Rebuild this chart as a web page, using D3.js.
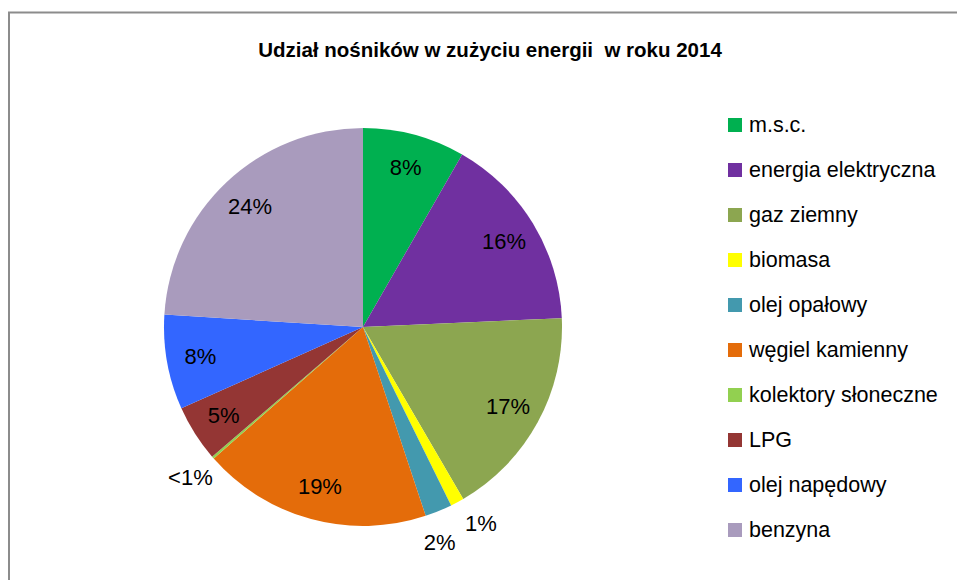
<!DOCTYPE html>
<html>
  <head>
    <meta charset="utf-8">
    <title>Udział nośników w zużyciu energii w roku 2014</title>
    <style>
      body { margin: 0; background: #fff; }
      svg text { font-family: "Liberation Sans", Arial, sans-serif; fill: #000; }
    </style>
  </head>
  <body>
    <div id="chart"></div>
    <script src="https://d3js.org/d3.v7.min.js"></script>
    <script>
      // carriers, their share (%) and printed labels, clockwise from 12 o'clock
      var categories = ["m.s.c.", "energia elektryczna", "gaz ziemny", "biomasa", "olej opałowy",
                        "węgiel kamienny", "kolektory słoneczne", "LPG", "olej napędowy", "benzyna"];
      var shares = [8.3, 16.0, 17.3, 1.1, 2.2, 18.6, 0.2, 4.6, 7.7, 24.0];
      var labels = ["8%", "16%", "17%", "1%", "2%", "19%", "<1%", "5%", "8%", "24%"];
      var colors = ["#00B050", "#7030A0", "#8CA650", "#FFFF00", "#4399AE",
                    "#E46C0A", "#92D050", "#943634", "#3366FF", "#A99BBD"];

      var width = 957, height = 580;
      var cx = 363, cy = 327, r = 199;

      var svg = d3.select("#chart").append("svg")
          .attr("width", width)
          .attr("height", height);

      // chart frame (only left and top edges show in the window)
      svg.append("rect")
          .attr("x", 9).attr("y", 12.5)
          .attr("width", 1000).attr("height", 700)
          .attr("fill", "none")
          .attr("stroke", "#8c8c8c")
          .attr("stroke-width", 2);

      svg.append("text")
          .attr("x", 490).attr("y", 57)
          .attr("text-anchor", "middle")
          .attr("xml:space", "preserve")
          .style("font-size", "20.5px")
          .style("font-weight", "bold")
          .text("Udział nośników w zużyciu energii  w roku 2014");

      var color = d3.scaleOrdinal().domain(categories).range(colors);

      var pie = d3.pie().sort(null).value(function(d) { return d.value; });
      var data = categories.map(function(c, i) { return { name: c, value: shares[i], label: labels[i] }; });
      var arcs = pie(data);

      var arc = d3.arc().innerRadius(0).outerRadius(r);
      var inLabel = d3.arc().innerRadius(r * 0.83).outerRadius(r * 0.83);
      var rOut = r * 1.15;

      // small slices get their label outside the pie; push neighbours apart
      var minGap = 0.2;
      arcs.forEach(function(d) { d.mid = (d.startAngle + d.endAngle) / 2; d.out = d.data.value < 3; });
      for (var i = 1; i < arcs.length; i++) {
          var a = arcs[i - 1], b = arcs[i];
          if (a.out && b.out && b.mid - a.mid < minGap) {
              var shift = (minGap - (b.mid - a.mid)) / 2;
              a.mid -= shift;
              b.mid += shift;
          }
      }

      var g = svg.append("g").attr("transform", "translate(" + cx + "," + cy + ")");

      g.selectAll("path")
        .data(arcs)
        .enter().append("path")
          .attr("d", arc)
          .attr("fill", function(d) { return color(d.data.name); });

      g.selectAll("text")
        .data(arcs)
        .enter().append("text")
          .attr("transform", function(d) {
              var p = d.out ? [rOut * Math.sin(d.mid), -rOut * Math.cos(d.mid)] : inLabel.centroid(d);
              return "translate(" + p + ")";
          })
          .attr("text-anchor", "middle")
          .attr("dy", "0.35em")
          .style("font-size", "22px")
          .text(function(d) { return d.data.label; });

      // legend
      var legend = svg.append("g").attr("transform", "translate(728,118)");
      var item = legend.selectAll("g")
        .data(categories)
        .enter().append("g")
          .attr("transform", function(d, i) { return "translate(0," + (i * 45) + ")"; });
      item.append("rect")
          .attr("width", 14).attr("height", 14)
          .attr("fill", function(d) { return color(d); });
      item.append("text")
          .attr("x", 21).attr("y", 14)
          .style("font-size", "21.5px")
          .text(function(d) { return d; });
    </script>
  </body>
</html>
